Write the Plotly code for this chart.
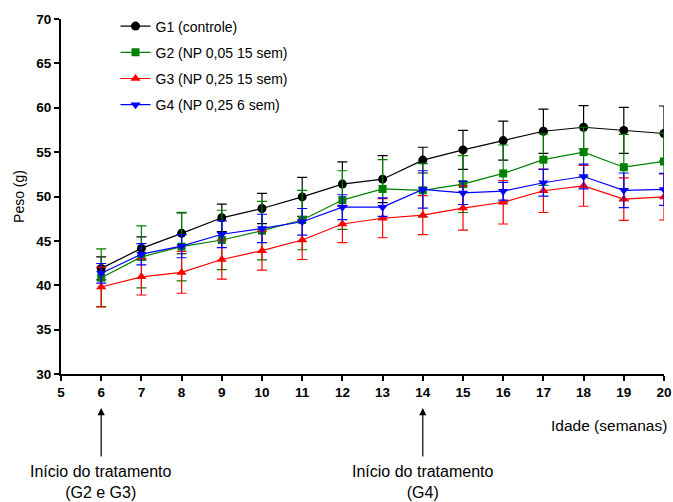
import plotly.graph_objects as go

weeks = list(range(6, 21))
series_names = ["G1 (controle)", "G2 (NP 0,05 15 sem)", "G3 (NP 0,25 15 sem)", "G4 (NP 0,25 6 sem)"]

g1 = [41.9, 44.15, 45.85, 47.6, 48.65, 49.95, 51.4, 51.95, 54.1, 55.25, 56.3, 57.35, 57.8, 57.45, 57.1]
g1_err = [1.3, 1.3, 2.3, 1.55, 1.7, 2.2, 2.5, 2.65, 1.45, 2.2, 2.2, 2.5, 2.45, 2.6, 3.1]

g2 = [40.85, 43.2, 44.35, 45.1, 46.15, 47.35, 49.6, 50.85, 50.7, 51.4, 52.6, 54.15, 55.0, 53.3, 53.95]
g2_err = [3.25, 3.5, 3.85, 3.35, 3.3, 3.35, 3.3, 3.3, 3.0, 3.2, 3.2, 2.9, 2.8, 3.7, 3.2]

g3 = [39.8, 40.95, 41.45, 42.9, 43.9, 45.1, 46.9, 47.55, 47.9, 48.7, 49.35, 50.65, 51.2, 49.7, 49.95]
g3_err = [2.25, 2.05, 2.35, 2.2, 2.2, 2.2, 2.1, 2.2, 2.2, 2.5, 2.45, 2.45, 2.3, 2.4, 2.6]

g4 = [41.35, 43.5, 44.4, 45.75, 46.4, 47.15, 48.8, 48.8, 50.8, 50.4, 50.6, 51.55, 52.25, 50.7, 50.8]
g4_err = [1.1, 1.2, 1.3, 1.5, 1.6, 1.5, 1.4, 1.05, 2.1, 1.3, 1.0, 1.5, 1.4, 1.95, 1.8]

x_ticks = list(range(5, 21))
y_ticks = list(range(30, 71, 5))

colors = ["#000000", "#008000", "#ff0000", "#0000ff"]
symbols = ["circle", "square", "triangle-up", "triangle-down"]
sizes = [9, 8, 9, 9]

fig = go.Figure()
for i, (name, y, e) in enumerate(zip(series_names, [g1, g2, g3, g4], [g1_err, g2_err, g3_err, g4_err])):
    fig.add_trace(go.Scatter(
        x=weeks, y=y, name=name, mode="lines+markers",
        legendgroup=f"g{i}",
        line=dict(color=colors[i], width=1.2),
        marker=dict(color=colors[i], symbol=symbols[i], size=sizes[i]),
        error_y=dict(type="data", array=e, visible=True, color=colors[i], thickness=1.2, width=5),
    ))

font = "Liberation Sans, Arial, sans-serif"
tickfont = dict(family=font, size=13.5, weight="bold", color="black")

fig.update_layout(
    width=673, height=502,
    margin=dict(l=61, r=9, t=19, b=128),
    paper_bgcolor="white", plot_bgcolor="white",
    font=dict(family=font, size=13, color="black"),
    showlegend=True,
    legend=dict(x=0.0904, y=1.024, xanchor="left", yanchor="top",
                bgcolor="rgba(0,0,0,0)", font=dict(size=14, family=font),
                tracegroupgap=5),
    xaxis=dict(range=[5, 20], tickvals=x_ticks, ticktext=[str(v) for v in x_ticks],
               showgrid=False, zeroline=False, showline=True, linecolor="black", linewidth=2,
               ticks="outside", ticklen=5, tickwidth=2, tickcolor="black",
               ticklabeloverflow="allow", automargin=False, tickfont=tickfont),
    yaxis=dict(range=[30, 70], tickvals=y_ticks, ticktext=[str(v) for v in y_ticks],
               showgrid=False, zeroline=False, showline=True, linecolor="black", linewidth=2,
               ticks="outside", ticklen=5, tickwidth=2, tickcolor="black",
               automargin=False, tickfont=tickfont,
               title=dict(text="Peso (g)", font=dict(size=14, family=font), standoff=8)),
)

fig.add_annotation(text="Idade (semanas)", xref="paper", yref="paper", x=1.008, y=-0.1437,
                   xanchor="right", yanchor="middle", showarrow=False,
                   font=dict(size=15.5, family=font))

for wk, label in [(6, "Início do tratamento<br>(G2 e G3)"), (14, "Início do tratamento<br>(G4)")]:
    fig.add_annotation(x=wk, y=-0.0958, xref="x", yref="paper", text="", showarrow=True,
                       ax=0, ay=50, arrowhead=2, arrowsize=1.2, arrowwidth=1.2, arrowcolor="black")
    fig.add_annotation(x=wk, y=-0.305, xref="x", yref="paper", text=label, showarrow=False,
                       xanchor="center", yanchor="middle",
                       font=dict(size=16, family=font))

fig.write_html("out.html")
